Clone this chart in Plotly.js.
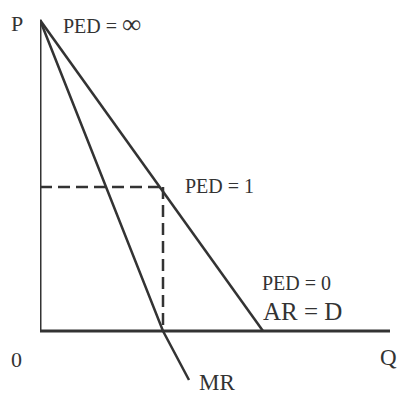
<!DOCTYPE html>
<html>
<head>
<meta charset="utf-8">
<script src="https://cdn.plot.ly/plotly-3.0.1.min.js"></script>
<style>html,body{margin:0;padding:0;background:#fff;}#chart{width:399px;height:394px;}</style>
</head>
<body>
<div id="chart"></div>
<script>
// Data (Q and P in arbitrary units)
const arQ = [0, 22.3];
const arP = [31.1, 0];
const mrQ = [0, 12.3, 14.9];
const mrP = [31.1, 0, -4.9];
const unitQ = 12.3;     // output where PED = 1
const unitP = 14.4;     // price where PED = 1
const axisQmax = 35;
const axisPmax = 31.1;

const ink = '#333333';
const font = 'Liberation Serif, Times New Roman, serif';
const xr = [0, 35], yr = [-5.5, 31.5];

const traces = [
  {x: [0, 0], y: [axisPmax, 0], mode: 'lines', line: {color: ink, width: 3}, hoverinfo: 'skip'},
  {x: [0, axisQmax], y: [0, 0], mode: 'lines', line: {color: ink, width: 3}, hoverinfo: 'skip'},
  {x: [0, unitQ], y: [unitP, unitP], mode: 'lines', line: {color: ink, width: 2.5, dash: '12px,6px'}, hoverinfo: 'skip'},
  {x: [unitQ, unitQ], y: [unitP, 0], mode: 'lines', line: {color: ink, width: 2.5, dash: '12px,6px'}, hoverinfo: 'skip'},
  {x: arQ, y: arP, mode: 'lines', line: {color: ink, width: 2.5}, hoverinfo: 'skip'},
  {x: mrQ, y: mrP, mode: 'lines', line: {color: ink, width: 2.5}, hoverinfo: 'skip'}
];

// annotation placed in data units but referenced to paper so it can sit outside the plot
function ann(text, x, y, size) {
  return {text: text, x: (x - xr[0]) / (xr[1] - xr[0]), y: (y - yr[0]) / (yr[1] - yr[0]),
          xref: 'paper', yref: 'paper', showarrow: false,
          xanchor: 'center', yanchor: 'middle', font: {family: font, size: size, color: ink}};
}

const layout = {
  width: 399, height: 394,
  margin: {l: 40, r: 9, t: 16, b: 8},
  paper_bgcolor: '#fff', plot_bgcolor: '#fff',
  showlegend: false,
  xaxis: {range: xr, visible: false, fixedrange: true},
  yaxis: {range: yr, visible: false, fixedrange: true},
  annotations: [
    ann('P', -2.3, 30.8, 22),
    ann('PED = <span style="font-size:27px">∞</span>', 6.15, 30.7, 20),
    ann('PED = 1', 18.0, 14.5, 20),
    ann('PED = 0', 25.65, 4.8, 20),
    ann('AR = D', 26.2, 1.95, 25),
    ann('0', -2.35, -2.85, 22),
    ann('Q', 34.85, -2.6, 23),
    ann('MR', 17.7, -5.1, 23)
  ]
};

Plotly.newPlot('chart', traces, layout, {displayModeBar: false, staticPlot: true});
</script>
</body>
</html>
